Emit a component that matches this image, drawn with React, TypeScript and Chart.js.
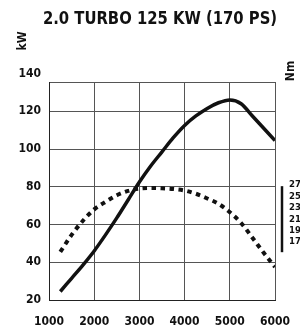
import { useEffect, useRef } from 'react';
import { Chart, registerables } from 'chart.js';

Chart.register(...registerables);

// ---- data ----
const rpm = [1250, 1500, 1750, 2000, 2250, 2500, 2750, 3000, 3250, 3500, 3750, 4000, 4250, 4500, 4750, 5000, 5250, 5500, 5750, 6000];
const powerKw = [24.5, 31.5, 38.5, 46, 54.5, 63.5, 73, 82.5, 91, 98.5, 106, 112.5, 117.5, 121.5, 124.5, 126, 124, 117.5, 111, 104.5];
const torqueCurve = [45.5, 54.5, 62, 68, 72, 75.5, 77.8, 79, 79.3, 79.2, 78.8, 78, 76.3, 73.8, 71, 66.5, 60.8, 53, 45, 37.5];
const xTicks = [1000, 2000, 3000, 4000, 5000, 6000];
const kwTicks = [20, 40, 60, 80, 100, 120, 140];
const nmTicks = [170, 190, 210, 230, 250, 270];
const nmBarRange = [268, 152];
const titleText = '2.0 TURBO 125 KW (170 PS)';
const kwLabel = 'kW';
const nmLabel = 'Nm';

const FONT = '"Liberation Sans Narrow", "DejaVu Sans Condensed", "Arial Narrow", "Liberation Sans", Arial, sans-serif';
const INK = '#111';
const GRID = '#555';

const nmBarPlugin = {
  id: 'nmBar',
  afterDraw(chart: any) {
    const s = chart.scales.y2;
    if (!s) return;
    const ctx = chart.ctx;
    ctx.save();
    ctx.strokeStyle = INK;
    ctx.lineWidth = 2.5;
    ctx.beginPath();
    const x = s.left + 7;
    ctx.moveTo(x, s.getPixelForValue(nmBarRange[0]));
    ctx.lineTo(x, s.getPixelForValue(nmBarRange[1]));
    ctx.stroke();
    ctx.restore();
  },
};

export default function App() {
  const ref = useRef<HTMLCanvasElement>(null);
  useEffect(() => {
    const chart = new Chart(ref.current!, {
      type: 'line',
      data: {
        datasets: [
          {
            label: 'kW',
            data: rpm.map((x, i) => ({ x, y: powerKw[i] })),
            borderColor: INK,
            borderWidth: 3.5,
            pointRadius: 0,
            cubicInterpolationMode: 'monotone',
            yAxisID: 'y',
          },
          {
            label: 'Nm',
            data: rpm.map((x, i) => ({ x, y: torqueCurve[i] })),
            borderColor: INK,
            borderWidth: 4,
            borderDash: [4.5, 4.5],
            pointRadius: 0,
            cubicInterpolationMode: 'monotone',
            yAxisID: 'y',
          },
        ],
      },
      options: {
        responsive: false,
        animation: false,
        layout: { padding: { top: 82, left: 0, right: 0, bottom: 0 } },
        plugins: { legend: { display: false }, title: { display: false }, tooltip: { enabled: false } },
        scales: {
          x: {
            type: 'linear',
            min: 1000,
            max: 6000,
            afterBuildTicks: (s: any) => { s.ticks = xTicks.map((v) => ({ value: v })); },
            afterFit: (s: any) => { s.height = 31; },
            grid: { color: GRID, drawTicks: false },
            border: { color: '#222' },
            ticks: {
              padding: 0,
              maxRotation: 0,
              color: INK,
              font: { family: FONT, size: 12, weight: 'bold', lineHeight: 44 / 12 },
              callback: (v: any) => String(v),
            },
          },
          xTop: {
            type: 'linear',
            position: 'top',
            min: 1000,
            max: 6000,
            ticks: { display: false },
            grid: { display: false, drawTicks: false },
            border: { display: true, color: GRID },
            afterFit: (s: any) => { s.height = 0; },
          },
          y: {
            type: 'linear',
            position: 'left',
            min: 20,
            max: 135.5,
            afterBuildTicks: (s: any) => { s.ticks = kwTicks.map((v) => ({ value: v })); },
            afterFit: (s: any) => { s.width = 49; },
            grid: {
              drawTicks: false,
              color: (c: any) => (c.tick && c.tick.value > 135.5 ? 'rgba(0,0,0,0)' : GRID),
            },
            border: { color: '#222' },
            ticks: { padding: 8, color: INK, font: { family: FONT, size: 12, weight: 'bold' }, callback: (v: any) => String(v) },
          },
          y2: {
            type: 'linear',
            position: 'right',
            min: 68,
            max: 451,
            afterBuildTicks: (s: any) => { s.ticks = nmTicks.map((v) => ({ value: v })); },
            afterFit: (s: any) => { s.width = 25; },
            grid: { display: false, drawTicks: false },
            border: { display: false },
            ticks: { padding: 14, color: INK, font: { family: FONT, size: 9.5, weight: 'bold' }, callback: (v: any) => String(v) },
          },
        },
      } as any,
      plugins: [nmBarPlugin],
    });
    return () => chart.destroy();
  }, []);

  const rotated = (cx: number, cy: number, size: number): any => ({
    position: 'absolute',
    left: cx,
    top: cy,
    transform: 'translate(-50%, -50%) rotate(-90deg)',
    fontFamily: FONT,
    fontWeight: 'bold',
    fontSize: size,
    lineHeight: 1,
    color: INK,
    whiteSpace: 'nowrap',
  });

  return (
    <div style={{ position: 'absolute', left: 0, top: 0, width: 300, height: 331, overflow: 'hidden', background: '#fff' }}>
      <canvas ref={ref} width={300} height={331} style={{ position: 'absolute', left: 0, top: 0 }} />
      <div
        style={{
          position: 'absolute',
          left: 160,
          top: 6.5,
          transform: 'translateX(-50%) scaleX(0.915)',
          fontFamily: FONT,
          fontWeight: 'bold',
          fontSize: 18,
          lineHeight: '22px',
          color: INK,
          whiteSpace: 'nowrap',
        }}
      >
        {titleText}
      </div>
      <div style={rotated(21.5, 40.5, 12)}>{kwLabel}</div>
      <div style={rotated(289.5, 71, 12)}>{nmLabel}</div>
    </div>
  );
}
